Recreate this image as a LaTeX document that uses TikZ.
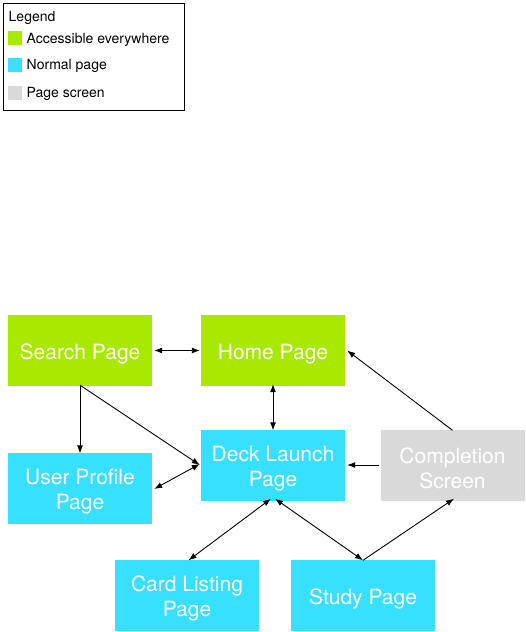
\documentclass[tikz,border=0pt]{standalone}
\usepackage{fontspec}
\setmainfont{TeX Gyre Heros}
\usetikzlibrary{arrows.meta}
\definecolor{pgreen}{HTML}{A9E800}
\definecolor{pcyan}{HTML}{38E0FF}
\definecolor{pgray}{HTML}{D9D9D9}
\begin{document}
\begin{tikzpicture}[x=1pt,y=-1pt,
  pagebox/.style={minimum width=144pt,minimum height=71pt,inner sep=0pt},
  pagetxt/.style={text=white,inner sep=0pt,yshift=-3.5pt,
    font=\fontsize{21}{25}\selectfont,align=center},
  legsq/.style={minimum width=14pt,minimum height=14pt,inner sep=0pt},
  legtxt/.style={anchor=west,inner sep=0pt,font=\fontsize{14}{16}\selectfont},
  conn/.style={line width=0.9pt,-{Latex[length=8pt,width=6pt]}},
  bconn/.style={line width=0.9pt,{Latex[length=8pt,width=6pt]}-{Latex[length=8pt,width=6pt]}}]
\useasboundingbox (0,0) rectangle (525,632);
% legend
\node[draw=black,line width=0.9pt,minimum width=181pt,minimum height=107pt,inner sep=0pt,anchor=north west] (legend) at (3,3) {};
\node[legtxt] (lt) at (8.5,17.5) {Legend};
\node[legsq,fill=pgreen] (sg) at (15,38) {};
\node[legtxt] (tg) at (26.5,39.5) {Accessible everywhere};
\node[legsq,fill=pcyan] (sc) at (15,64.5) {};
\node[legtxt] (tc) at (26.5,66) {Normal page};
\node[legsq,fill=pgray] (sgr) at (15,92.5) {};
\node[legtxt] (tgr) at (26.5,94) {Page screen};
% pages
\node[pagebox,fill=pgreen,label={[pagetxt]center:Search Page}] (search) at (80,350.5) {};
\node[pagebox,fill=pgreen,label={[pagetxt]center:Home Page}] (home) at (273,350.5) {};
\node[pagebox,fill=pcyan,label={[pagetxt]center:Deck Launch\\Page}] (deck) at (273,465) {};
\node[pagebox,fill=pcyan,label={[pagetxt]center:User Profile\\Page}] (user) at (80,488) {};
\node[pagebox,fill=pgray,label={[pagetxt]center:Completion\\Screen}] (comp) at (452.5,465) {};
\node[pagebox,fill=pcyan,label={[pagetxt]center:Card Listing\\Page}] (card) at (187,595) {};
\node[pagebox,fill=pcyan,label={[pagetxt]center:Study Page}] (study) at (363,595) {};
% connectors
\draw[bconn] ([xshift=2pt]search.east) -- ([xshift=-1pt]home.west);
\draw[bconn] ([yshift=2pt]home.south) -- ([yshift=-1pt]deck.north);
\draw[conn] ([yshift=1pt]search.south) -- ([yshift=-1pt]user.north);
\draw[conn] ([yshift=1pt]search.south) -- ([xshift=-1pt,yshift=0pt]deck.west);
\draw[bconn] ([xshift=2pt,yshift=-1pt]user.east) -- ([xshift=-1pt,yshift=1pt]deck.west);
\draw[conn] ([xshift=-1pt]comp.west) -- ([xshift=2pt]deck.east);
\draw[conn] ([yshift=-1pt]comp.north) -- ([xshift=2pt]home.east);
\draw[bconn] ([xshift=1.5pt,yshift=-1pt]card.north) -- ([xshift=-2pt,yshift=2pt]deck.south);
\draw[bconn] ([yshift=-1pt]study.north) -- ([xshift=2pt,yshift=2pt]deck.south);
\draw[conn] ([yshift=-1pt]study.north) -- ([xshift=1.5pt,yshift=2pt]comp.south);
\end{tikzpicture}
\end{document}
